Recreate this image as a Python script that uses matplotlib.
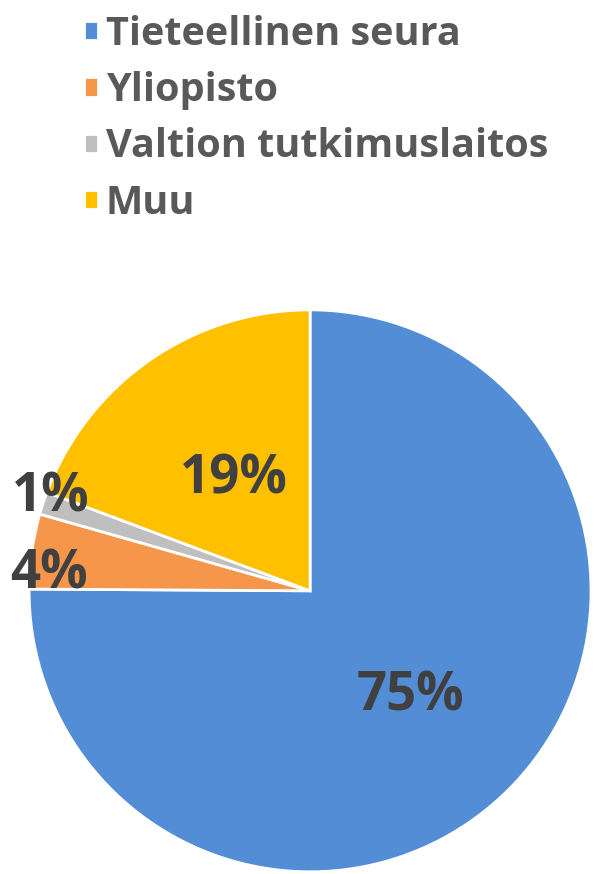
import numpy as np
import matplotlib
matplotlib.use("Agg")
import matplotlib.pyplot as plt

labels = ["Tieteellinen seura", "Yliopisto", "Valtion tutkimuslaitos", "Muu"]
shares = [75.1, 4.3, 1.3, 19.3]
pct_labels = ["75%", "4%", "1%", "19%"]
colors = ["#528DD6", "#F5964A", "#BFBFBF", "#FFC000"]
# label placement: radius (fraction of pie radius) and angle nudge in degrees
label_dist = [0.52, 0.93, 0.98, 0.48]
label_nudge = [-1.4, 4.6, -1.7, -0.5]


def main():
    plt.rcParams['font.family'] = ['Open Sans', 'DejaVu Sans']
    fig = plt.figure(figsize=(5.94, 8.74), dpi=100)
    ax = fig.add_axes([0.049, 0.0025, 0.946, 0.643])

    wedges, _ = ax.pie(shares, colors=colors, startangle=90, counterclock=False,
                       wedgeprops=dict(edgecolor="white", linewidth=2))
    ax.set_xlim(-1, 1)
    ax.set_ylim(-1, 1)
    ax.set_aspect("equal")

    for w, txt, d, nud in zip(wedges, pct_labels, label_dist, label_nudge):
        ang = np.deg2rad((w.theta1 + w.theta2) / 2 + nud)
        ax.text(d * np.cos(ang), d * np.sin(ang), txt, ha="center", va="center",
                fontsize=38, fontweight="bold", color="#404040")

    fig.legend(wedges, labels, loc="upper left", bbox_to_anchor=(0.082, 1.024),
               frameon=False, handlelength=0.35, handleheight=0.38,
               handletextpad=0.19, labelspacing=0.44, labelcolor="#595959",
               prop=dict(family=['Open Sans', 'DejaVu Sans'], weight="bold", size=28.5))

    fig.savefig("out.png", dpi=100)


if __name__ == '__main__':
    main()
